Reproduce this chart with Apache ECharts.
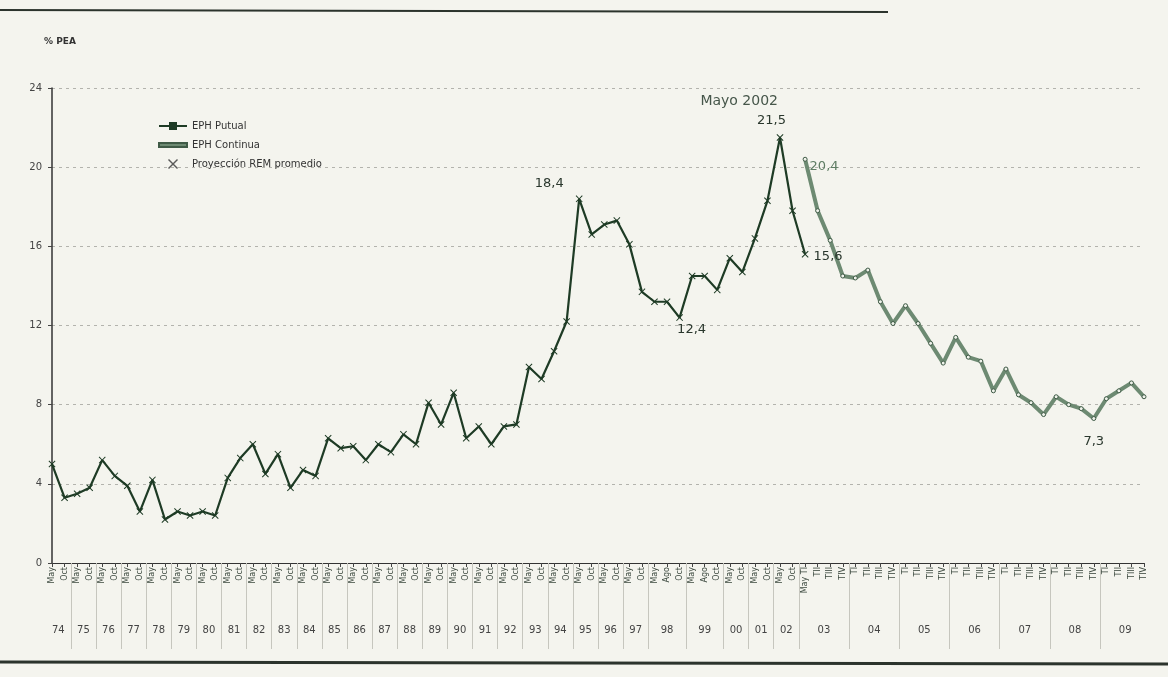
<!DOCTYPE html>
<html>
<head>
<meta charset="utf-8">
<script src="https://cdn.jsdelivr.net/npm/echarts@6/dist/echarts.min.js"></script>
<style>
html, body { margin: 0; padding: 0; background: #f4f4ee; }
#chart { width: 1168px; height: 677px; }
</style>
</head>
<body>
<div id="chart"></div>
<script>
// años (fila inferior del eje)
const years = ['74', '75', '76', '77', '78', '79', '80', '81', '82', '83', '84', '85', '86', '87', '88', '89',
    '90', '91', '92', '93', '94', '95', '96', '97', '98', '99', '00', '01', '02', '03', '04', '05', '06', '07', '08', '09']
// ondas / trimestres de cada año
const semestral = ['May', 'Oct']
const conAgosto = ['May', 'Ago', 'Oct']
const trimestral = ['TI', 'TII', 'TIII', 'TIV']
const enlace2003 = ['May TI', 'TII', 'TIII', 'TIV']

// EPH puntual, May 74 .. May 03
const ephPutual = [5.0, 3.3, 3.5, 3.8, 5.2, 4.4, 3.9, 2.6, 4.2, 2.2, 2.6, 2.4, 2.6, 2.4, 4.3, 5.3,
    6.0, 4.5, 5.5, 3.8, 4.7, 4.4, 6.3, 5.8, 5.9, 5.2, 6.0, 5.6, 6.5, 6.0, 8.1, 7.0,
    8.6, 6.3, 6.9, 6.0, 6.9, 7.0, 9.9, 9.3, 10.7, 12.2, 18.4, 16.6, 17.1, 17.3, 16.1, 13.7,
    13.2, 13.2, 12.4, 14.5, 14.5, 13.8, 15.4, 14.7, 16.4, 18.3, 21.5, 17.8, 15.6]
// EPH continua, TI 03 .. TIV 09
const ephContinua = [20.4, 17.8, 16.3, 14.5, 14.4, 14.8, 13.2, 12.1, 13.0, 12.1, 11.1, 10.1,
    11.4, 10.4, 10.2, 8.7, 9.8, 8.5, 8.1, 7.5, 8.4, 8.0, 7.8, 7.3, 8.3, 8.7, 9.1, 8.4]
// proyeccion REM: sin puntos en el grafico
const proyeccionREM = []

// textos sobre la linea
const notasPutual = [[42, '18,4'], [50, '12,4'], [58, 'Mayo 2002\n21,5'], [60, '15,6']]
const notasContinua = [[0, '20,4'], [23, '7,3']]

const periodosDe = (y) => {
    if (y === '98' || y === '99') return conAgosto
    if (y === '03') return enlace2003
    if (['04', '05', '06', '07', '08', '09'].includes(y)) return trimestral
    return semestral
}

// categorias del eje principal
let periodos = []
let grupos = [] // [inicio, fin] de cada año
years.forEach(y => {
    const p = periodosDe(y)
    const ini = periodos.length
    periodos = periodos.concat(p)
    grupos.push([ini, periodos.length - 1])
})
// en 2003 May y TI comparten la misma categoria
const inicioContinua = periodos.indexOf('May TI')

// eje secundario a media categoria: años centrados y separadores
const nMedio = periodos.length * 2 - 1
let ejeAnios = new Array(nMedio).fill('')
let separadores = new Set()
grupos.forEach((g, i) => {
    ejeAnios[g[0] + g[1]] = years[i]
    if (i < grupos.length - 1) separadores.add(g[1] + grupos[i + 1][0])
})

const estiloNota = {
    '18,4': { position: 'left', distance: 12, offset: [0, -15] },
    '12,4': { position: 'bottom', distance: 2, offset: [12, 0] },
    'Mayo 2002\n21,5': {
        position: 'top', distance: 4, offset: [6, 0], align: 'right',
        formatter: '{a|Mayo 2002}\n{b|21,5}',
        rich: {
            a: { fontSize: 14, color: '#46564a', lineHeight: 22, align: 'right', padding: [0, 8, 0, 0], fontFamily: 'DejaVu Sans' },
            b: { fontSize: 13, color: '#2a372d', lineHeight: 18, align: 'right', fontFamily: 'DejaVu Sans' }
        }
    },
    '15,6': { position: 'right', distance: 5, offset: [0, 2] },
    '20,4': { position: 'right', distance: 2, offset: [0, 7], color: '#5e7c63' },
    '7,3': { position: 'bottom', distance: 14 }
}

const conNotas = (valores, notas) => {
    const d = valores.slice()
    notas.forEach(([i, txt]) => {
        d[i] = {
            value: valores[i],
            label: Object.assign({ show: true, formatter: txt, fontSize: 13, color: '#2a372d', fontFamily: 'DejaVu Sans' }, estiloNota[txt])
        }
    })
    return d
}

const putualData = conNotas(ephPutual, notasPutual)
const continuaData = new Array(inicioContinua).fill(null).concat(conNotas(ephContinua, notasContinua))

const simboloX = 'path://M0,1L1,0L5,4L9,0L10,1L6,5L10,9L9,10L5,6L1,10L0,9L4,5Z'

let myChart = echarts.init(document.getElementById('chart'))
let option = {
    backgroundColor: '#f4f4ee',
    animation: false,
    textStyle: { fontFamily: 'DejaVu Sans' },
    grid: { left: 52, right: 24, top: 88, bottom: 114 },
    legend: {
        left: 153,
        top: 116,
        orient: 'vertical',
        itemWidth: 28,
        itemHeight: 10,
        itemGap: 9,
        textStyle: { fontSize: 10, color: '#333', fontFamily: 'DejaVu Sans' },
        data: [
            { name: 'EPH Putual', icon: 'path://M0,4H28V6H0Z M10,1H18V9H10Z', itemStyle: { color: '#1e3b25' } },
            { name: 'EPH Continua', icon: 'path://M0,3H28V7H0Z', itemStyle: { color: '#6d8a72' } },
            { name: 'Proyección REM promedio', icon: simboloX, itemStyle: { color: '#333' } }
        ]
    },
    graphic: [
        { type: 'line', shape: { x1: 0, y1: 10, x2: 888, y2: 12 }, style: { stroke: '#2b332c', lineWidth: 2 } },
        { type: 'line', shape: { x1: 0, y1: 662, x2: 1168, y2: 664 }, style: { stroke: '#2b332c', lineWidth: 3 } }
    ],
    xAxis: [
        {
            type: 'category',
            position: 'bottom',
            data: periodos,
            boundaryGap: false,
            axisLine: { lineStyle: { color: '#333', width: 1.2 } },
            axisTick: { show: true, interval: 0, length: 4, lineStyle: { color: '#444' } },
            axisLabel: { interval: 0, rotate: 90, fontSize: 8, color: '#3d4a40', margin: 4 },
            splitLine: { show: false }
        },
        {
            type: 'category',
            position: 'bottom',
            data: ejeAnios,
            boundaryGap: false,
            axisLine: { show: false },
            axisTick: {
                show: true,
                interval: (i) => separadores.has(i),
                length: 86,
                lineStyle: { color: '#c6c6be' }
            },
            axisLabel: { interval: 0, fontSize: 10, color: '#444', margin: 62 },
            splitLine: { show: false }
        }
    ],
    yAxis: {
        type: 'value',
        min: 0,
        max: 24,
        interval: 4,
        name: '% PEA',
        nameLocation: 'end',
        nameGap: 42,
        nameTextStyle: { fontSize: 9, fontWeight: 'bold', color: '#333', align: 'center', padding: [0, 0, 0, 16] },
        axisLine: { show: true, lineStyle: { color: '#333', width: 1.5 } },
        axisTick: { show: true, length: 4, lineStyle: { color: '#444' } },
        axisLabel: { fontSize: 10, color: '#444', margin: 10 },
        splitLine: { show: true, lineStyle: { color: '#b3b3ad', type: [3, 4], width: 1 } }
    },
    series: [
        {
            name: 'EPH Putual',
            type: 'line',
            data: putualData,
            symbol: simboloX,
            symbolSize: 7,
            showAllSymbol: true,
            z: 3,
            lineStyle: { color: '#1e3b25', width: 2.2 },
            itemStyle: { color: '#1e3b25' }
        },
        {
            name: 'EPH Continua',
            type: 'line',
            data: continuaData,
            symbol: 'circle',
            symbolSize: 4,
            showAllSymbol: true,
            z: 2,
            lineStyle: { color: '#6d8a72', width: 4 },
            itemStyle: { color: '#eef2ea', borderColor: '#3f5a46', borderWidth: 1 }
        },
        {
            name: 'Proyección REM promedio',
            type: 'scatter',
            data: proyeccionREM,
            symbol: simboloX,
            symbolSize: 9,
            itemStyle: { color: '#333' }
        }
    ]
}
myChart.setOption(option)
window.addEventListener('resize', function () {
    myChart.resize()
})
</script>
</body>
</html>
